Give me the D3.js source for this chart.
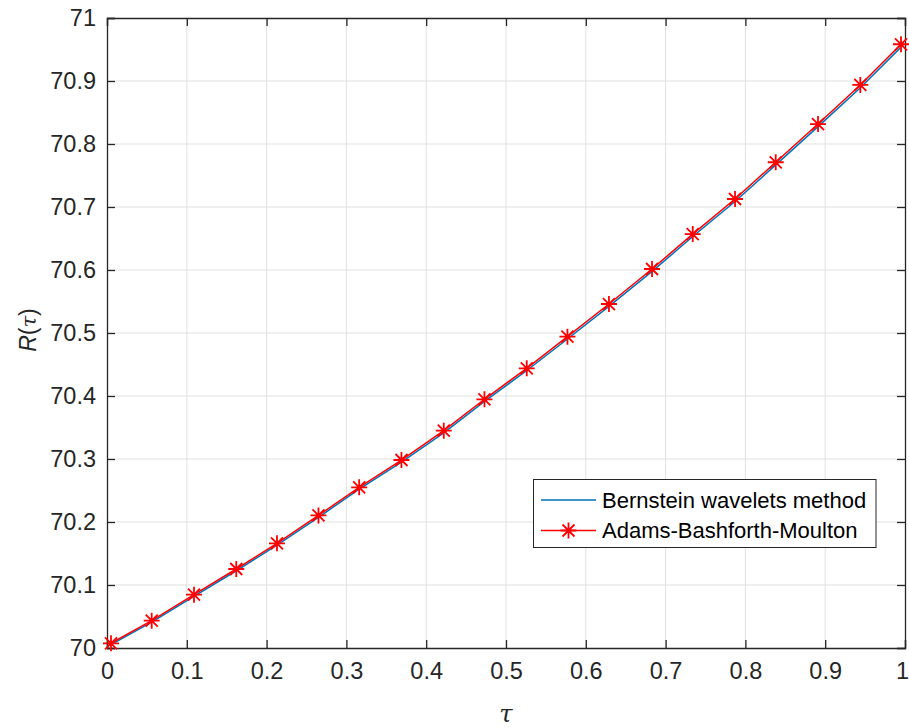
<!DOCTYPE html>
<html>
<head>
<meta charset="utf-8">
<script src="https://cdn.jsdelivr.net/npm/d3@7"></script>
<style>
  html, body { margin: 0; padding: 0; background: #fff; }
  svg { display: block; font-family: "Liberation Sans", Arial, Helvetica, sans-serif; }
</style>
</head>
<body>
<svg id="chart" width="909" height="728"></svg>
<script>
// ---- data ----
const tau = [0.005, 0.056, 0.109, 0.162, 0.213, 0.265, 0.316, 0.369, 0.422, 0.473,
             0.526, 0.577, 0.629, 0.683, 0.734, 0.787, 0.838, 0.891, 0.944, 0.995];
const abmValues = [70.0075, 70.0433, 70.0846, 70.1254, 70.1662, 70.2105, 70.2551, 70.2984, 70.3449, 70.3948,
                   70.4440, 70.4941, 70.5460, 70.6016, 70.6570, 70.7127, 70.7710, 70.8317, 70.8937, 70.9583];
const bernsteinValues = [70.0053, 70.0410, 70.0820, 70.1226, 70.1633, 70.2075, 70.2520, 70.2952, 70.3416, 70.3914,
                         70.4405, 70.4905, 70.5423, 70.5978, 70.6531, 70.7087, 70.7669, 70.8275, 70.8894, 70.9538];
const xTicks = [0, 0.1, 0.2, 0.3, 0.4, 0.5, 0.6, 0.7, 0.8, 0.9, 1];
const xTickLabels = ["0", "0.1", "0.2", "0.3", "0.4", "0.5", "0.6", "0.7", "0.8", "0.9", "1"];
const yTicks = [70, 70.1, 70.2, 70.3, 70.4, 70.5, 70.6, 70.7, 70.8, 70.9, 71];
const yTickLabels = ["70", "70.1", "70.2", "70.3", "70.4", "70.5", "70.6", "70.7", "70.8", "70.9", "71"];
const seriesNames = ["Bernstein wavelets method", "Adams-Bashforth-Moulton"];

// ---- layout ----
const pL = 107, pR = 905, pT = 18, pB = 648;
const axisColor = "#262626";
const svg = d3.select("#chart");

const x = d3.scaleLinear().domain([0, 1]).range([pL, pR]);
const y = d3.scaleLinear().domain([70, 71]).range([pB, pT]);

// grid
const grid = svg.append("g");
grid.selectAll(".gx").data(xTicks.slice(1, -1)).enter().append("line")
  .attr("x1", d => x(d)).attr("x2", d => x(d)).attr("y1", pT).attr("y2", pB)
  .attr("stroke", "#e1e1e1").attr("stroke-width", 1);
grid.selectAll(".gy").data(yTicks.slice(1, -1)).enter().append("line")
  .attr("y1", d => y(d)).attr("y2", d => y(d)).attr("x1", pL).attr("x2", pR)
  .attr("stroke", "#e1e1e1").attr("stroke-width", 1);

// axes (ticks inward, box)
const xAxisB = d3.axisBottom(x).tickValues(xTicks).tickSize(-8).tickPadding(14)
  .tickFormat((d, i) => xTickLabels[i]);
const xAxisT = d3.axisTop(x).tickValues(xTicks).tickSize(-8).tickFormat("");
const yAxisL = d3.axisLeft(y).tickValues(yTicks).tickSize(-8).tickPadding(11)
  .tickFormat((d, i) => yTickLabels[i]);
const yAxisR = d3.axisRight(y).tickValues(yTicks).tickSize(-8).tickFormat("");

function style(g) {
  g.selectAll("path.domain").attr("stroke", axisColor).attr("stroke-width", 1.3);
  g.selectAll(".tick line").attr("stroke", axisColor).attr("stroke-width", 1.3);
  g.selectAll(".tick text").attr("fill", axisColor).attr("font-size", 23.5)
    .attr("font-family", "'Liberation Sans', Arial, sans-serif");
}
const gxb = svg.append("g").attr("transform", `translate(0,${pB})`).call(xAxisB).call(style);
gxb.selectAll(".tick text").filter(d => d === 1).attr("dx", -3);
svg.append("g").attr("transform", `translate(0,${pT})`).call(xAxisT).call(style);
svg.append("g").attr("transform", `translate(${pL},0)`).call(yAxisL).call(style);
svg.append("g").attr("transform", `translate(${pR},0)`).call(yAxisR).call(style);

// lines
const line = d3.line().x((d, i) => x(tau[i])).y(d => y(d));
svg.append("path").datum(bernsteinValues).attr("d", line)
  .attr("fill", "none").attr("stroke", "#0072BD").attr("stroke-width", 1.5);
svg.append("path").datum(abmValues).attr("d", line)
  .attr("fill", "none").attr("stroke", "#FF0000").attr("stroke-width", 1.5);

// asterisk markers
const r = 8, dd = 6;
const star = `M0,${-r}V${r}M${-r},0H${r}M${-dd},${-dd}L${dd},${dd}M${-dd},${dd}L${dd},${-dd}`;
svg.append("g").selectAll("path").data(abmValues).enter().append("path")
  .attr("transform", (d, i) => `translate(${x(tau[i])},${y(d)})`)
  .attr("d", star).attr("fill", "none").attr("stroke", "#FF0000").attr("stroke-width", 1.8);

// axis labels
svg.append("text").attr("x", (pL + pR) / 2).attr("y", 722)
  .attr("text-anchor", "middle").attr("font-size", 24).attr("font-style", "italic")
  .attr("font-family", "'DejaVu Serif', 'Liberation Serif', serif")
  .attr("fill", axisColor).text("τ");
svg.append("text")
  .attr("transform", `translate(36,${(pT + pB) / 2 - 3}) rotate(-90)`)
  .attr("text-anchor", "middle").attr("font-size", 23).attr("fill", axisColor)
  .attr("font-family", "'Liberation Sans', Arial, sans-serif")
  .html('<tspan font-style="italic">R</tspan><tspan>(</tspan><tspan font-style="italic" font-family="\'DejaVu Serif\', serif" font-size="21">τ</tspan><tspan>)</tspan>');

// legend
const lg = svg.append("g");
lg.append("rect").attr("x", 533.5).attr("y", 479.5).attr("width", 342.5).attr("height", 68)
  .attr("fill", "#fff").attr("stroke", axisColor).attr("stroke-width", 1);
const rowsY = [500, 530.5];
lg.append("line").attr("x1", 541).attr("x2", 596).attr("y1", rowsY[0]).attr("y2", rowsY[0])
  .attr("stroke", "#0072BD").attr("stroke-width", 1.5);
lg.append("line").attr("x1", 541).attr("x2", 596).attr("y1", rowsY[1]).attr("y2", rowsY[1])
  .attr("stroke", "#FF0000").attr("stroke-width", 1.5);
lg.append("path").attr("transform", `translate(568.5,${rowsY[1]})`).attr("d", star)
  .attr("fill", "none").attr("stroke", "#FF0000").attr("stroke-width", 1.8);
lg.selectAll("text.lt").data(seriesNames).enter().append("text")
  .attr("x", 602).attr("y", (d, i) => rowsY[i]).attr("dy", "0.36em")
  .attr("font-size", 22).attr("fill", "#000")
  .attr("font-family", "'Liberation Sans', Arial, sans-serif").text(d => d);
</script>
</body>
</html>
